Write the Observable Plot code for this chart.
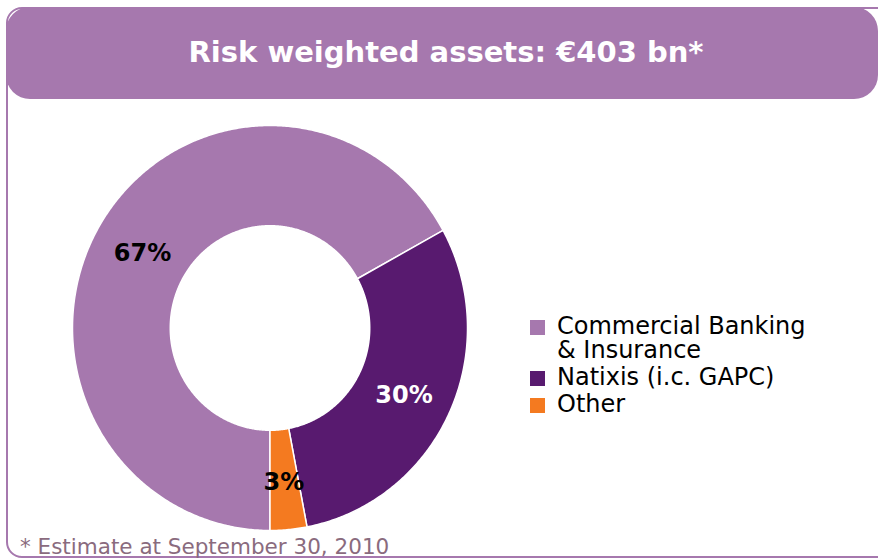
<!DOCTYPE html>
<html>
<head>
<meta charset="utf-8">
<script src="https://cdn.jsdelivr.net/npm/d3@7"></script>
<script src="https://cdn.jsdelivr.net/npm/@observablehq/plot@0.6"></script>
<style>
  html, body { margin: 0; padding: 0; background: #fff; }
  body { width: 878px; height: 559px; position: relative; overflow: hidden; font-family: "DejaVu Sans", Verdana, sans-serif; }
  #chart { position: absolute; left: 0; top: 0; }
  #frame { position: absolute; left: 6px; top: 7px; width: 900px; height: 551px; border: 2px solid #A678AE; border-radius: 16px; box-sizing: border-box; }
  #banner { position: absolute; left: 6px; top: 7px; width: 872px; height: 92px; background: #A678AE; border-radius: 24px; display: flex; align-items: center; justify-content: center; }
  #banner span { color: #fff; font-weight: bold; font-size: 29px; padding-left: 8px; margin-top: -2px; }
  #legend { position: absolute; left: 530px; top: 314px; font-size: 24px; color: #000; }
  .item { display: flex; align-items: flex-start; margin-bottom: 3px; }
  .sw { width: 15px; height: 15px; margin-top: 6px; margin-right: 12px; flex: none; }
  .lbl { line-height: 24px; }
  #foot { position: absolute; left: 20px; top: 534px; font-size: 21.5px; line-height: 26px; color: #8A6B7E; }
</style>
</head>
<body>
<div id="chart"></div>
<div id="frame"></div>
<div id="banner"><span id="title"></span></div>
<div id="legend"></div>
<div id="foot"></div>
<script>
const title = "Risk weighted assets: €403 bn*";
const footnote = "* Estimate at September 30, 2010";
const categories = ["Commercial Banking & Insurance", "Natixis (i.c. GAPC)", "Other"];
const legendLines = [["Commercial Banking", "& Insurance"], ["Natixis (i.c. GAPC)"], ["Other"]];
const values = [67, 30, 3];
const labels = ["67%", "30%", "3%"];
const colors = ["#A678AE", "#581A6F", "#F47A20"];
const labelColors = ["#000000", "#ffffff", "#000000"];

document.getElementById("title").textContent = title;
document.getElementById("foot").textContent = footnote;

const innerR = 0.505, outerR = 1, labelR = 0.75;
const arcs = d3.pie().sort(null).startAngle(Math.PI).endAngle(3 * Math.PI)(values);

// outline of each slice as a closed ring segment, in unit-circle coordinates
const outline = [];
arcs.forEach((a, i) => {
  const n = Math.max(8, Math.ceil((a.endAngle - a.startAngle) / (Math.PI / 360)));
  const pts = [];
  for (let k = 0; k <= n; k++) {
    const t = a.startAngle + (a.endAngle - a.startAngle) * k / n;
    pts.push([outerR * Math.sin(t), outerR * Math.cos(t)]);
  }
  for (let k = n; k >= 0; k--) {
    const t = a.startAngle + (a.endAngle - a.startAngle) * k / n;
    pts.push([innerR * Math.sin(t), innerR * Math.cos(t)]);
  }
  pts.push(pts[0]);
  pts.forEach(p => outline.push({category: categories[i], x: p[0], y: p[1]}));
});

const labelData = arcs.map((a, i) => {
  const m = (a.startAngle + a.endAngle) / 2;
  return {x: labelR * Math.sin(m), y: labelR * Math.cos(m), text: labels[i], i};
});

const plot = Plot.plot({
  width: 878,
  height: 559,
  marginLeft: 72,
  marginRight: 411,
  marginTop: 125,
  marginBottom: 29,
  style: {background: "transparent", fontFamily: "DejaVu Sans, Verdana, sans-serif"},
  x: {domain: [-1, 1], axis: null},
  y: {domain: [-1, 1], axis: null},
  color: {domain: categories, range: colors},
  marks: [
    Plot.line(outline, {x: "x", y: "y", z: "category", fill: "category", stroke: "#ffffff", strokeWidth: 1.5, curve: "linear"}),
    ...labelData.map(d => Plot.text([d], {x: "x", y: "y", dy: 3, text: "text", fill: labelColors[d.i], fontSize: 24, fontWeight: "bold"}))
  ]
});
document.getElementById("chart").appendChild(plot);

const legend = document.getElementById("legend");
categories.forEach((c, i) => {
  const item = document.createElement("div");
  item.className = "item";
  const sw = document.createElement("div");
  sw.className = "sw";
  sw.style.background = colors[i];
  const lbl = document.createElement("div");
  lbl.className = "lbl";
  lbl.innerHTML = legendLines[i].map(s => s.replace(/&/g, "&amp;")).join("<br>");
  item.appendChild(sw);
  item.appendChild(lbl);
  legend.appendChild(item);
});
</script>
</body>
</html>
